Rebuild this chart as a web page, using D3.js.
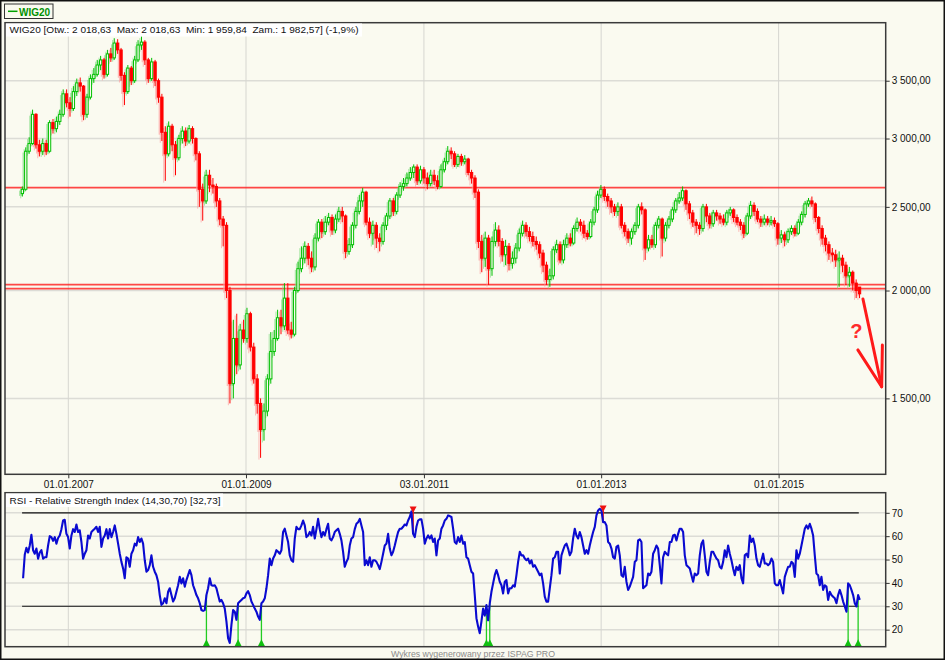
<!DOCTYPE html>
<html><head><meta charset="utf-8">
<script src="https://cdn.jsdelivr.net/npm/d3@7"></script>
<style>
html,body{margin:0;padding:0;background:#fafaf0;}
svg{display:block;font-family:"Liberation Sans",Arial,sans-serif;}
</style></head><body>
<svg id="c" width="945" height="660"></svg>
<script>
// ---------- DATA ----------
const seriesName = "WIG20";
const titleText = "WIG20 [Otw.: 2 018,63  Max: 2 018,63  Min: 1 959,84  Zam.: 1 982,57] (-1,9%)";
const rsiTitle = "RSI - Relative Strength Index (14,30,70) [32,73]";
const footerText = "Wykres wygenerowany przez ISPAG PRO";
const tickDates = ["2007-01-01","2009-01-01","2011-01-03","2013-01-01","2015-01-01"];
const priceTicks = [1500,2000,2500,3000,3500];
const rsiTicks = [20,30,40,50,60,70];
const rsiBands = [30,70];
const levels = [2632, 2032, 2010];
const candleStart = "2006-06-26";
const candleStepDays = 14;

const open = [2590,2620,2900,2960,3200,2950,2900,2960,2900,3130,3080,3140,3200,3380,3300,3250,3400,3480,3450,3200,
3350,3520,3560,3650,3700,3560,3760,3720,3870,3800,3550,3400,3620,3500,3700,3850,3880,3700,3520,3680,
3500,3350,3050,2880,3100,2950,2850,3000,3060,2980,3080,3000,2880,2620,2540,2720,2650,2640,2540,2420,
2380,2000,1560,1760,1640,1800,1760,1880,1720,1580,1480,1380,1450,1580,1700,1760,1860,1820,1960,1800,
1780,2000,2120,2180,2250,2180,2130,2300,2400,2340,2400,2430,2350,2420,2470,2440,2220,2260,2380,2470,
2540,2600,2400,2330,2380,2300,2280,2380,2440,2540,2470,2580,2640,2660,2700,2740,2780,2680,2760,2700,
2660,2720,2680,2640,2760,2820,2900,2880,2800,2860,2820,2840,2740,2700,2600,2280,2180,2300,2120,2280,
2350,2280,2200,2250,2150,2180,2240,2330,2380,2340,2310,2280,2260,2210,2140,2060,2080,2230,2260,2170,
2260,2300,2270,2360,2400,2380,2330,2310,2400,2480,2580,2620,2570,2540,2500,2470,2500,2380,2340,2300,
2340,2380,2500,2480,2240,2290,2260,2380,2420,2300,2380,2420,2480,2540,2560,2610,2520,2460,2400,2380,
2360,2500,2440,2390,2460,2440,2420,2400,2460,2480,2430,2400,2380,2330,2440,2510,2470,2420,2400,2420,
2400,2410,2390,2300,2320,2290,2340,2360,2330,2400,2450,2520,2540,2520,2430,2360,2300,2260,2210,2200,
2170,2180,2140,2080,2100,2040,2018.63];
const high = [2640,2930,3010,3240,3210,2990,3000,2990,3150,3160,3180,3240,3420,3420,3350,3450,3520,3530,3460,3380,
3560,3620,3700,3740,3720,3800,3820,3920,3910,3820,3580,3650,3640,3740,3900,3940,3900,3720,3720,3700,
3520,3380,3100,3140,3120,2980,3030,3100,3090,3110,3100,3010,2900,2660,2760,2760,2700,2660,2560,2440,
2400,2020,1850,1880,1830,1850,1910,1890,1740,1600,1500,1480,1600,1790,1800,1900,1900,2040,2040,1840,
2020,2160,2250,2280,2270,2220,2330,2420,2420,2440,2460,2450,2450,2500,2500,2450,2300,2400,2500,2580,
2630,2610,2430,2410,2400,2330,2400,2460,2560,2560,2600,2670,2700,2740,2780,2800,2800,2790,2780,2740,
2760,2760,2720,2800,2850,2940,2930,2900,2880,2880,2870,2850,2760,2720,2620,2320,2340,2320,2310,2400,
2380,2300,2290,2270,2220,2270,2360,2410,2400,2370,2340,2310,2280,2230,2160,2120,2250,2290,2280,2290,
2330,2330,2380,2430,2420,2410,2350,2420,2500,2610,2650,2640,2590,2560,2520,2530,2520,2400,2360,2360,
2400,2520,2530,2490,2320,2320,2400,2440,2430,2400,2440,2500,2560,2600,2640,2620,2540,2480,2420,2400,
2520,2520,2460,2480,2480,2460,2450,2480,2500,2490,2450,2420,2400,2460,2540,2530,2490,2440,2450,2440,
2440,2430,2400,2350,2340,2360,2380,2380,2420,2470,2540,2560,2570,2530,2440,2380,2320,2280,2240,2230,
2220,2200,2160,2130,2110,2060,2018.63];
const low = [2570,2610,2880,2950,2920,2860,2870,2870,2890,3040,3050,3110,3180,3260,3180,3230,3360,3400,3150,3170,
3330,3480,3540,3600,3520,3540,3680,3700,3760,3500,3280,3380,3460,3480,3680,3800,3650,3480,3500,3450,
3300,2980,2680,2860,2900,2720,2830,2960,2940,2960,2960,2830,2500,2410,2520,2600,2590,2500,2380,2250,
1960,1480,1500,1600,1620,1740,1740,1700,1560,1440,1280,1340,1430,1560,1680,1750,1780,1800,1780,1760,
1770,1990,2100,2150,2140,2100,2110,2280,2300,2320,2380,2320,2330,2400,2400,2180,2200,2240,2360,2450,
2500,2380,2300,2260,2240,2220,2260,2350,2420,2440,2450,2560,2610,2640,2680,2700,2650,2660,2660,2620,
2640,2650,2620,2630,2740,2800,2840,2780,2780,2790,2800,2720,2660,2560,2240,2100,2130,2030,2080,2250,
2250,2160,2140,2110,2120,2150,2220,2310,2310,2280,2250,2230,2180,2100,2030,2020,2060,2210,2150,2150,
2240,2250,2260,2340,2340,2300,2290,2300,2380,2460,2560,2540,2500,2460,2440,2440,2360,2310,2270,2260,
2320,2360,2450,2170,2220,2240,2240,2360,2190,2280,2360,2400,2460,2520,2540,2480,2420,2370,2330,2320,
2340,2400,2360,2370,2410,2390,2380,2380,2440,2400,2380,2350,2300,2320,2420,2440,2400,2370,2380,2380,
2380,2370,2260,2270,2250,2270,2320,2310,2320,2380,2430,2500,2500,2400,2330,2260,2220,2170,2160,2130,
2020,2100,2030,2020,2000,1960,1959.84];
const close = [2620,2900,2960,3200,2950,2900,2960,2900,3130,3080,3140,3200,3380,3300,3250,3400,3480,3450,3200,3350,
3520,3560,3650,3700,3560,3760,3720,3870,3800,3550,3400,3620,3500,3700,3850,3880,3700,3520,3680,3500,
3350,3050,2880,3100,2950,2850,3000,3060,2980,3080,3000,2880,2620,2540,2720,2650,2640,2540,2420,2380,
2000,1560,1760,1640,1800,1760,1880,1720,1580,1480,1380,1450,1580,1700,1760,1860,1820,1960,1800,1780,
2000,2120,2180,2250,2180,2130,2300,2400,2340,2400,2430,2350,2420,2470,2440,2220,2260,2380,2470,2540,
2600,2400,2330,2380,2300,2280,2380,2440,2540,2470,2580,2640,2660,2700,2740,2780,2680,2760,2700,2660,
2720,2680,2640,2760,2820,2900,2880,2800,2860,2820,2840,2740,2700,2600,2280,2180,2300,2120,2280,2350,
2280,2200,2250,2150,2180,2240,2330,2380,2340,2310,2280,2260,2210,2140,2060,2080,2230,2260,2170,2260,
2300,2270,2360,2400,2380,2330,2310,2400,2480,2580,2620,2570,2540,2500,2470,2500,2380,2340,2300,2340,
2380,2500,2480,2240,2290,2260,2380,2420,2300,2380,2420,2480,2540,2560,2610,2520,2460,2400,2380,2360,
2500,2440,2390,2460,2440,2420,2400,2460,2480,2430,2400,2380,2330,2440,2510,2470,2420,2400,2420,2400,
2410,2390,2300,2320,2290,2340,2360,2330,2400,2450,2520,2540,2520,2430,2360,2300,2260,2210,2200,2170,
2180,2140,2080,2100,2040,2000,1982.57];

const rsiStart = "2006-06-29";
const rsiEnd = "2015-12-01";
const rsi = [42,52,55,53,56,60.6,54,52.5,54.7,50.4,53,54,50.4,51,51,56,60,59.6,58,59.6,
56.8,59.2,60.3,63,66.7,67,61,59.6,54.7,60.3,63,61.8,65,61.8,62.5,57.5,50.4,52.5,54,60.3,
59,61.8,62.5,63.2,64,61.8,64,55.4,59,60.3,63,59,63,59.6,61.8,64.6,61,56.8,52.5,49,
46.2,42,51,50.4,46.9,52.5,54,56.8,56,59.6,57.5,59,56.8,49.7,44.8,45.5,47.6,51.8,46.9,44.8,
43.3,40.5,34.8,30.6,31.3,33.4,31.3,36.2,37.7,34.8,32,33.4,36.2,39,42.6,39.8,42,38.4,41.2,43.3,
45.5,43.3,39,37,34.8,33.4,31.3,28.4,28,28.4,34.8,37.7,42,39,38.8,39,37.7,34.8,32,32.7,
31.3,29,23.5,16.4,14.3,22,28.4,27.7,24.2,31.3,32,32.7,33.4,33.7,35.5,36.5,34.8,32,30.6,29,
27.7,25.6,24.2,31.3,32,33.4,37.7,43.3,50.4,47.6,50.4,51.8,54,53.3,52.5,54,61.8,63.2,60.3,57.5,
51.8,49.7,49,59,64,63,63,64.6,66.7,64.6,59.6,60.3,61.8,60.3,64,59,63,67.4,
63,59.6,61.8,60.3,63,65.3,59,58.2,59.6,61.8,62.5,63.2,61,58.2,53.3,46.9,49,50.4,56,59,
59.6,63,65.3,66,67.4,64.6,61.8,47.6,49.7,47.6,51,46.9,49.7,49.7,49,47.6,45.9,49,52.5,56,
56.8,61,54.7,51.8,53.3,56,59,61.8,63.2,63.2,64,65,64.6,66.7,68.2,70.6,61,59.6,64,66.7,
67.2,67.2,63.2,56.8,59,60.3,59,60.3,57.5,59,51.8,58.2,59,63.2,64.6,66.7,67.4,68.9,68.6,68.2,
63.2,57.5,56.8,59.6,57.5,60.3,56.8,57.5,51,50.4,47.6,44.8,44,34.8,24.9,21.3,18.5,23.5,29,26,
30.5,24,31.3,36.2,39.8,43.3,45.5,43.3,40.5,39,35.5,40.5,41.2,35.5,37.7,37.7,39,38.4,43.3,49,
53.3,51.8,51.8,50.4,49.7,50.4,48.3,49.7,46.9,47.6,46.2,44.8,43.3,44,39.8,34.1,32,32,37.7,43.3,
50.4,51,53.3,53.3,44,51.8,54,56,56.8,54.7,51.8,53.3,59,63.2,60.3,59,61.8,59.6,56,52.5,
54,52.5,56,59,61.8,64,68.9,71,71.7,71,66,66,64.6,57.5,56.8,54.7,51,50.4,55.4,56,51.8,
43.3,42.6,46.9,40.5,37,38.4,40.5,42.6,49,49.7,58.2,58.6,57.5,37.7,38.4,39,44,43.3,44.8,52.5,
54,56,54.7,47.6,39.8,51,53.3,52.5,51.8,57.5,57.5,60.3,60.6,58.2,61,63.2,63.2,61.8,51.8,47.6,
46.9,46.2,43.3,40.5,44,43.3,44,51.8,56.8,58.2,51.8,44.8,43.3,49,53.3,53.3,51.8,50.4,49.7,46.9,
46.2,49,54,51,56,52.5,49.7,46.2,43.3,46.9,45.5,47.6,42,39.8,51.8,52.5,51,60.3,57.5,59,
56,50.4,47.6,46.9,49.7,52.5,48.3,48.3,47.6,48.3,50.4,49,39.8,39,39,41.2,38.4,35.5,42.6,44.8,
46.9,46.9,49,48.3,42.6,54,50.4,52.5,56,59.6,63.2,64.6,63.2,65.3,63.2,60.3,51.8,44,43.3,39,
42.6,37,39,38.4,32.7,36.2,34.8,34.1,33.4,31.3,34.8,37,34.8,32,29.9,27.7,39.8,39,37,34.8,
31.3,29.9,34.8,32.73];

// hand-drawn annotation (date, value)
const arrowShaft = [["2015-12-14",1955],["2016-02-29",1547]];
const arrowHead = [["2015-11-23",1707],["2016-02-29",1547],["2016-03-03",1729]];
const questionMark = ["2015-11-17",1762];

// ---------- CHART ----------
const parse = d3.utcParse("%Y-%m-%d");
const W = 945, H = 660;
const BG = "#fafaf0";
const svg = d3.select("#c");

const P = {l:5, r:885.7, t:22.7, b:474.3};      // price panel
const R = {l:5, r:885.7, t:492.7, b:646.7};     // rsi panel

const x = d3.scaleUtc().domain([Date.UTC(2007,0,1), Date.UTC(2015,0,1)]).range([68.3, 778.6]);
const yP = d3.scaleLog().domain([1225, 4086]).range([P.b, P.t]);
const yR = d3.scaleLinear().domain([12.7, 78.6]).range([R.b, R.t]);

const fmtPrice = d3.formatLocale({decimal:",", thousands:" ", grouping:[3], currency:["",""]}).format(",.2f");

svg.append("rect").attr("width",W).attr("height",H).attr("fill",BG);

const defs = svg.append("defs");
defs.append("clipPath").attr("id","clipP").append("rect").attr("x",P.l).attr("y",P.t).attr("width",P.r-P.l).attr("height",P.b-P.t);
defs.append("clipPath").attr("id","clipR").append("rect").attr("x",R.l).attr("y",R.t).attr("width",R.r-R.l).attr("height",R.b-R.t);

// legend
const lg = svg.append("g");
lg.append("rect").attr("x",4.5).attr("y",4).attr("width",48.5).attr("height",14.5).attr("fill",BG).attr("stroke","#333").attr("stroke-width",1);
lg.append("line").attr("x1",8).attr("x2",17.5).attr("y1",11.3).attr("y2",11.3).attr("stroke","#00a000").attr("stroke-width",1.5);
lg.append("text").attr("x",19).attr("y",15.5).attr("font-size",10).attr("font-weight","bold").attr("fill","#009000").text(seriesName);

// ----- price panel -----
const gp = svg.append("g");
gp.append("rect").attr("x",P.l).attr("y",P.t).attr("width",P.r-P.l).attr("height",P.b-P.t).attr("fill",BG);
const gpc = gp.append("g").attr("clip-path","url(#clipP)");
gpc.selectAll("line.hg").data(priceTicks).join("line").attr("class","hg")
  .attr("x1",P.l).attr("x2",P.r).attr("y1",d=>yP(d)).attr("y2",d=>yP(d))
  .attr("stroke","#dcdcd6").attr("stroke-width",1.5);
gpc.selectAll("line.vg").data(tickDates).join("line").attr("class","vg")
  .attr("x1",d=>x(parse(d))).attr("x2",d=>x(parse(d))).attr("y1",P.t).attr("y2",P.b)
  .attr("stroke","#d6d6d0").attr("stroke-width",1);
gpc.selectAll("line.lvl").data(levels).join("line").attr("class","lvl")
  .attr("x1",P.l).attr("x2",P.r).attr("y1",d=>yP(d)).attr("y2",d=>yP(d))
  .attr("stroke","#ff2828").attr("stroke-width",1.8).attr("opacity",0.85);

const t0 = parse(candleStart);
const candles = close.map((c,i)=>({date:d3.utcDay.offset(t0,i*candleStepDays), o:open[i], h:high[i], l:low[i], c}));
const bw = 2.3;
function drawCandles(g, shadow){
  const up = d=>d.c>=d.o;
  const col = d=> shadow ? (up(d)?"#7fdc7f":"#ff9a9a") : (up(d)?"#00c000":"#ff0000");
  g.selectAll("line.w").data(candles).join("line").attr("class","w")
    .attr("x1",d=>x(d.date)).attr("x2",d=>x(d.date))
    .attr("y1",d=>yP(d.h)).attr("y2",d=>yP(d.l))
    .attr("stroke",col).attr("stroke-width",1);
  g.selectAll("rect.b").data(candles).join("rect").attr("class","b")
    .attr("x",d=>x(d.date)-bw/2).attr("width",bw)
    .attr("y",d=>yP(Math.max(d.o,d.c)))
    .attr("height",d=>Math.max(0.8, yP(Math.min(d.o,d.c))-yP(Math.max(d.o,d.c))))
    .attr("fill",d=> shadow ? col(d) : (up(d)?BG:"#ff0000"))
    .attr("stroke",col).attr("stroke-width",1);
}
drawCandles(gpc.append("g").attr("transform","translate(-1.6,1.8)").attr("opacity",0.65), true);
drawCandles(gpc.append("g"), false);

// annotation
const ann = gp.append("g").attr("stroke","#ff1a1a").attr("stroke-width",3).attr("fill","none").attr("stroke-linecap","round").attr("stroke-linejoin","round");
const lineGen = d3.line().x(d=>x(parse(d[0]))).y(d=>yP(d[1]));
ann.append("path").attr("d",lineGen(arrowShaft));
ann.append("path").attr("d",lineGen(arrowHead));
gp.append("text").attr("x",x(parse(questionMark[0]))).attr("y",yP(questionMark[1]))
  .attr("text-anchor","middle").attr("font-size",20).attr("font-weight","bold").attr("fill","#ff2a2a").text("?");

gp.append("rect").attr("x",P.l).attr("y",P.t).attr("width",P.r-P.l).attr("height",P.b-P.t)
  .attr("fill","none").attr("stroke","#3a3a3a").attr("stroke-width",1.5);

// title label
gp.append("rect").attr("x",P.l+1).attr("y",P.t+0.8).attr("width",356).attr("height",13).attr("fill","#ffffff");
gp.append("text").attr("x",9.5).attr("y",33.2).attr("font-size",9.5).attr("fill","#111")
  .attr("textLength",349).attr("lengthAdjust","spacingAndGlyphs").attr("xml:space","preserve").style("white-space","pre").text(titleText);

// axes
function styleAxis(g){
  g.select(".domain").remove();
  g.selectAll(".tick line").attr("stroke","#333");
  g.selectAll(".tick text").attr("fill","#111").attr("font-size",10).attr("font-family","Liberation Sans, Arial, sans-serif");
}
svg.append("g").attr("transform",`translate(${P.r},0)`)
  .call(d3.axisRight(yP).tickValues(priceTicks).tickFormat(fmtPrice).tickSize(4).tickPadding(2)).call(styleAxis);
svg.append("g").attr("transform",`translate(0,${P.b})`)
  .call(d3.axisBottom(x).tickValues(tickDates.map(parse)).tickFormat(d3.utcFormat("%d.%m.%Y")).tickSize(4).tickPadding(3)).call(styleAxis);

// ----- RSI panel -----
const gr = svg.append("g");
gr.append("rect").attr("x",R.l).attr("y",R.t).attr("width",R.r-R.l).attr("height",R.b-R.t).attr("fill",BG);
const grc = gr.append("g").attr("clip-path","url(#clipR)");
grc.selectAll("line.hg").data(rsiTicks).join("line").attr("class","hg")
  .attr("x1",R.l).attr("x2",R.r).attr("y1",d=>yR(d)).attr("y2",d=>yR(d))
  .attr("stroke","#dcdcd6").attr("stroke-width",1.5);
grc.selectAll("line.vg").data(tickDates).join("line").attr("class","vg")
  .attr("x1",d=>x(parse(d))).attr("x2",d=>x(parse(d))).attr("y1",R.t).attr("y2",R.b)
  .attr("stroke","#d6d6d0").attr("stroke-width",1);

const rIdx = d3.scaleLinear().domain([0, rsi.length-1]).range([+parse(rsiStart), +parse(rsiEnd)]);
const rsiData = rsi.map((v,i)=>({date:new Date(rIdx(i)), v}));
grc.selectAll("line.band").data(rsiBands).join("line").attr("class","band")
  .attr("x1",x(rsiData[0].date)-1).attr("x2",x(rsiData[rsiData.length-1].date)-1)
  .attr("y1",d=>yR(d)).attr("y2",d=>yR(d)).attr("stroke","#111").attr("stroke-width",1.2);

// signals
const buys = [], sells = [];
for(let i=1;i<rsiData.length;i++){
  if(rsiData[i-1].v<30 && rsiData[i].v>=30) buys.push(rsiData[i]);
  if(rsiData[i-1].v>70 && rsiData[i].v<=70) sells.push({date:rsiData[i].date, v:rsiData[i].v, pv:rsiData[i-1].v});
}
grc.selectAll("line.buy").data(buys).join("line").attr("class","buy")
  .attr("x1",d=>x(d.date)).attr("x2",d=>x(d.date)).attr("y1",R.b).attr("y2",d=>yR(d.v))
  .attr("stroke","#22cc22").attr("stroke-width",1.3);
grc.selectAll("line.sell").data(sells).join("line").attr("class","sell")
  .attr("x1",d=>x(d.date)).attr("x2",d=>x(d.date)).attr("y1",d=>yR(d.pv)).attr("y2",d=>yR(d.v))
  .attr("stroke","#ee1111").attr("stroke-width",1.5);

grc.append("path").datum(rsiData)
  .attr("d",d3.line().x(d=>x(d.date)).y(d=>yR(d.v)))
  .attr("fill","none").attr("stroke","#0a0ad0").attr("stroke-width",2.1).attr("stroke-linejoin","round");

grc.selectAll("path.buyT").data(buys).join("path").attr("class","buyT")
  .attr("d",d=>{const cx=x(d.date), b=R.b; return `M${cx-3.8},${b}L${cx+3.8},${b}L${cx},${b-7.5}Z`;})
  .attr("fill","#10c010");
grc.selectAll("path.sellT").data(sells).join("path").attr("class","sellT")
  .attr("d",d=>{const cx=x(d.date), t=yR(d.pv); return `M${cx-3.5},${t-5}L${cx+3.5},${t-5}L${cx},${t+1.5}Z`;})
  .attr("fill","#ee1111");

gr.append("rect").attr("x",R.l).attr("y",R.t).attr("width",R.r-R.l).attr("height",R.b-R.t)
  .attr("fill","none").attr("stroke","#3a3a3a").attr("stroke-width",1.5);

gr.append("rect").attr("x",R.l+1).attr("y",R.t+0.8).attr("width",217).attr("height",13.5).attr("fill","#ffffff");
gr.append("text").attr("x",9.5).attr("y",503.8).attr("font-size",9.5).attr("fill","#111")
  .attr("textLength",211).attr("lengthAdjust","spacingAndGlyphs").text(rsiTitle);

svg.append("g").attr("transform",`translate(${R.r},0)`)
  .call(d3.axisRight(yR).tickValues(rsiTicks).tickFormat(d3.format("d")).tickSize(4).tickPadding(2)).call(styleAxis);

// footer
svg.append("text").attr("x",473).attr("y",656.5).attr("text-anchor","middle").attr("font-size",9).attr("fill","#8a8a8a")
  .attr("textLength",164).attr("lengthAdjust","spacingAndGlyphs").text(footerText);

// outer border
svg.append("rect").attr("x",0.75).attr("y",0.75).attr("width",W-1.5).attr("height",H-1.5)
  .attr("fill","none").attr("stroke","#111").attr("stroke-width",1.5);
</script>
</body></html>
